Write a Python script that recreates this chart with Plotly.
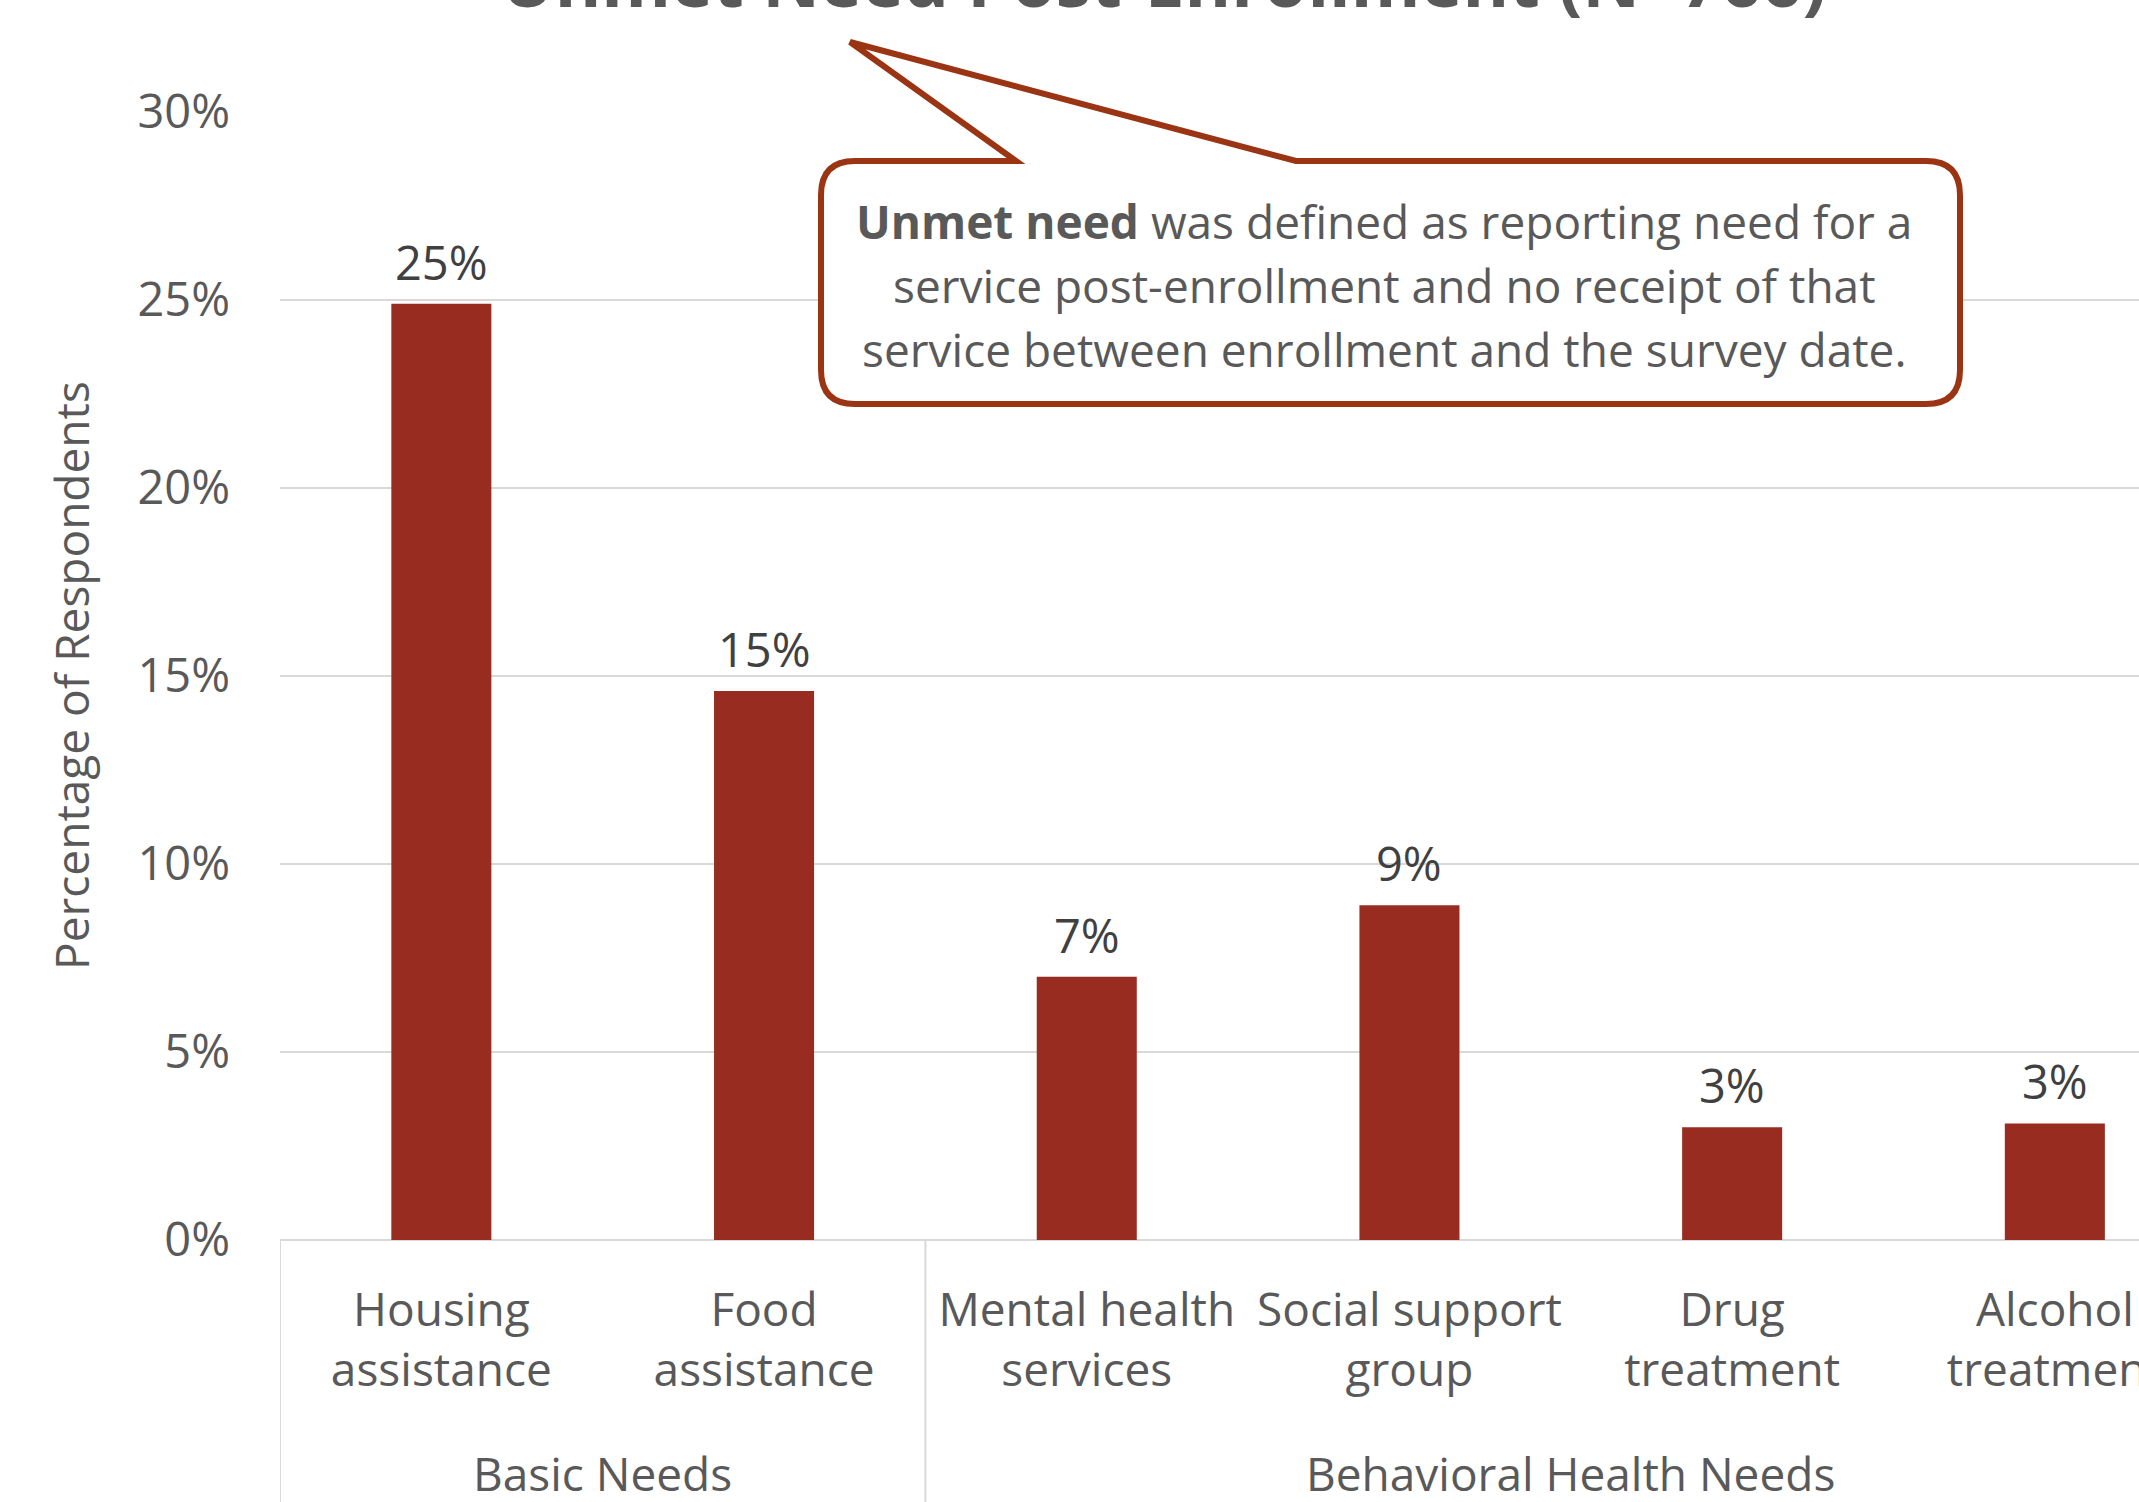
import plotly.graph_objects as go

# ---- data ----
groups = ["Basic Needs", "Basic Needs", "Behavioral Health Needs", "Behavioral Health Needs",
          "Behavioral Health Needs", "Behavioral Health Needs"]
categories = ["Housing assistance", "Food assistance", "Mental health services",
              "Social support group", "Drug treatment", "Alcohol treatment"]
tick_labels = ["Housing<br>assistance", "Food<br>assistance", "Mental health<br>services",
               "Social support<br>group", "Drug<br>treatment", "Alcohol<br>treatment"]
values = [0.249, 0.146, 0.070, 0.089, 0.030, 0.031]
group_names = ["Basic Needs", "Behavioral Health Needs"]
title_text = "Unmet Need Post-Enrollment (N=766)"
callout_lines = ["<b>Unmet need</b> was defined as reporting need for a",
                 "service post-enrollment and no receipt of that",
                 "service between enrollment and the survey date."]

W, H = 2139, 1502
ML, MR, MT, MB = 280, 0, 112, 262
PW, PH = W - ML - MR, H - MT - MB

def xp(px):
    return (px - ML) / PW

def yp(py):
    return (H - MB - py) / PH

FONT = "Open Sans, Noto Sans, sans-serif"
GRID = "#d9d9d9"
TXT = "#595959"
BAR = "#992c20"
CALL = "#9a3412"

x_idx = list(range(len(categories)))

fig = go.Figure()
fig.add_trace(go.Bar(
    x=x_idx, y=values, width=0.31,
    marker=dict(color=BAR, line=dict(width=0)),
    cliponaxis=False, hoverinfo="skip",
))

# group positions (center of each group's categories)
group_pos = []
for g in group_names:
    idx = [i for i, gg in enumerate(groups) if gg == g]
    group_pos.append((min(idx) + max(idx)) / 2)
# divider positions (group boundaries)
dividers = [-0.5]
for i in range(1, len(groups)):
    if groups[i] != groups[i - 1]:
        dividers.append(i - 0.5)

shapes = []
for d in dividers:
    shapes.append(dict(type="line", xref="x", yref="paper", x0=d, x1=d, y0=0, y1=-MB / PH - 0.01,
                       line=dict(color=GRID, width=2), layer="below"))

# callout box with tail (pixel geometry converted to paper coords)
L, R, T, B, r = 821, 1960, 161, 404, 34
tail_l, tip_x, tip_y, tail_r = 1016, 850, 42, 1296
pts = []
def P(cmd, *coords):
    s = cmd
    for i in range(0, len(coords), 2):
        s += f" {xp(coords[i]):.5f},{yp(coords[i+1]):.5f}"
    pts.append(s)
P("M", tail_l, T)
P("L", tip_x, tip_y)
P("L", tail_r, T)
P("L", R - r, T)
P("Q", R, T, R, T + r)
P("L", R, B - r)
P("Q", R, B, R - r, B)
P("L", L + r, B)
P("Q", L, B, L, B - r)
P("L", L, T + r)
P("Q", L, T, L + r, T)
path = " ".join(pts) + " Z"
shapes.append(dict(type="path", xref="paper", yref="paper", path=path,
                   fillcolor="white", line=dict(color=CALL, width=6), layer="above"))

annotations = []
# data labels above bars
for i, v in zip(x_idx, values):
    annotations.append(dict(text=f"{v:.0%}", xref="x", yref="y", x=i, y=v, yshift=42,
                            xanchor="center", yanchor="middle", showarrow=False,
                            font=dict(family=FONT, size=47, color="#404040")))
for g, pos in zip(group_names, group_pos):
    annotations.append(dict(text=g, xref="x", yref="paper", x=pos, y=yp(1473),
                            xanchor="center", yanchor="middle", showarrow=False,
                            font=dict(family=FONT, size=46, color=TXT)))
for i, line in enumerate(callout_lines):
    annotations.append(dict(text=line, xref="paper", yref="paper", x=xp(1384), y=yp(221 + 64 * i),
                            xanchor="center", yanchor="middle", showarrow=False,
                            font=dict(family=FONT, size=46, color=TXT)))
annotations.append(dict(text="Percentage of Respondents", xref="paper", yref="paper",
                        x=xp(71), y=yp(676), textangle=-90, xanchor="center", yanchor="middle",
                        showarrow=False, font=dict(family=FONT, size=46, color=TXT)))
annotations.append(dict(text=f"<b>{title_text}</b>", xref="paper", yref="paper",
                        x=xp(1164), y=yp(30), xanchor="center", yanchor="bottom",
                        showarrow=False, font=dict(family=FONT, size=71, color=TXT)))

fig.update_layout(
    width=W, height=H, autosize=False,
    margin=dict(l=ML, r=MR, t=MT, b=MB, pad=0, autoexpand=False),
    paper_bgcolor="white", plot_bgcolor="white",
    showlegend=False,
    xaxis=dict(
        tickmode="array", tickvals=x_idx, ticktext=tick_labels,
        range=[-0.5, -0.5 + PW / 322.7], automargin=False,
        showgrid=False, zeroline=False, showline=False,
        ticks="", ticklabelstandoff=39, ticklabeloverflow="allow",
        tickfont=dict(family=FONT, size=46, color=TXT),
    ),
    yaxis=dict(
        range=[0, 0.30], dtick=0.05, tickformat=".0%", automargin=False,
        showgrid=True, gridcolor=GRID, gridwidth=2,
        zeroline=True, zerolinecolor=GRID, zerolinewidth=2,
        showline=False, ticks="", ticklabelstandoff=49,
        tickfont=dict(family=FONT, size=47, color=TXT),
    ),
    shapes=shapes,
    annotations=annotations,
)

fig.write_html("out.html")
